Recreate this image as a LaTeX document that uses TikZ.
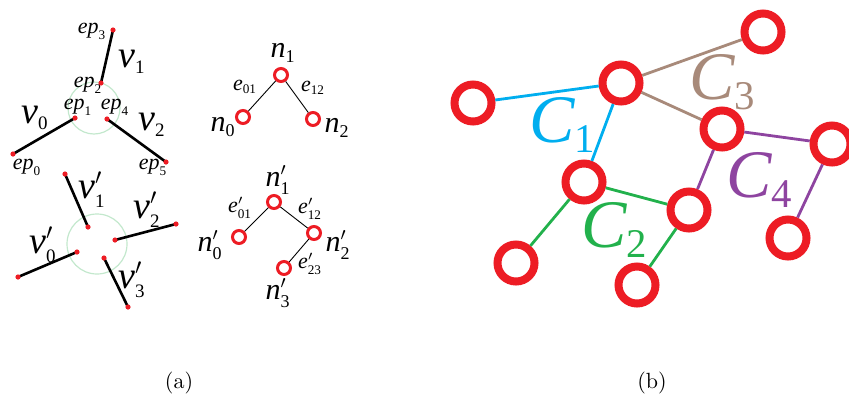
\RequirePackage{fix-cm}
\documentclass[tikz,border=0pt]{standalone}
\usepackage{fontspec}
\setmainfont{Liberation Serif}
\newfontfamily\capfont{Latin Modern Roman}
\usepackage{tikz}
\usetikzlibrary{positioning}
\renewcommand{\defaultscriptratio}{.6}
\definecolor{ringred}{RGB}{237,28,36}
\definecolor{linkcyan}{RGB}{0,174,239}
\definecolor{linkbrown}{RGB}{168,138,122}
\definecolor{linkpurple}{RGB}{142,68,160}
\definecolor{linkgreen}{RGB}{34,177,76}
\definecolor{hubgreen}{RGB}{195,232,205}

\begin{document}
\begin{tikzpicture}[
        x=0.5pt,
        y=-0.5pt,
        seg/.style={line width=1.3pt, black},
        hub/.style={draw=hubgreen, line width=0.6pt},
        tnode/.style={circle, draw=ringred, line width=1.5pt, minimum size=6.5pt, inner sep=0pt},
        tedge/.style={line width=0.45pt},
        cnode/.style={circle, draw=ringred, line width=4pt, minimum size=18.5pt, inner sep=0pt},
        cedge/.style={line width=1.4pt},
        vlab/.style={inner sep=0pt, font=\fontsize{19}{19}\selectfont},
        plab/.style={inner sep=0pt, font=\fontsize{11}{11}\selectfont},
        nlab/.style={inner sep=0pt, font=\fontsize{15}{15}\selectfont},
        clab/.style={inner sep=0pt, font=\fontsize{34}{34}\selectfont},
        sublabel/.style={inner sep=0pt, font=\capfont\fontsize{11}{13}\selectfont}
    ]
        \useasboundingbox (0,0) rectangle (849,402);

        \coordinate (ep0) at (13,154);
        \coordinate (ep1) at (75,118);
        \coordinate (ep2) at (101,83);
        \coordinate (ep3) at (113,30);
        \coordinate (ep4) at (107,119);
        \coordinate (ep5) at (166,162);
        \draw[hub] (94,108) circle (13pt);
        \draw[seg] (ep0) -- (ep1);
        \draw[seg] (ep2) -- (ep3);
        \draw[seg] (ep4) -- (ep5);
        \foreach \p in {ep0,ep1,ep2,ep3,ep4,ep5} {
            \fill[ringred] (\p) circle (1.3pt);
        }

        \node[plab] at (92,31) {$\mathit{ep}_{\mathrm{3}}$};
        \node[plab] at (88,85) {$\mathit{ep}_{\mathrm{2}}$};
        \node[plab] at (78,107) {$\mathit{ep}_{\mathrm{1}}$};
        \node[plab] at (115,107) {$\mathit{ep}_{\mathrm{4}}$};
        \node[plab] at (27,167) {$\mathit{ep}_{\mathrm{0}}$};
        \node[plab] at (153,167) {$\mathit{ep}_{\mathrm{5}}$};
        \node[vlab] at (132,62) {$\mathit{v}_{\scriptscriptstyle\mathrm{1}}$};
        \node[vlab] at (35,118) {$\mathit{v}_{\scriptscriptstyle\mathrm{0}}$};
        \node[vlab] at (152,125) {$\mathit{v}_{\scriptscriptstyle\mathrm{2}}$};

        \coordinate (q1a) at (65,174);
        \coordinate (q1b) at (88,227);
        \coordinate (q2a) at (115,240);
        \coordinate (q2b) at (176,224);
        \coordinate (q0a) at (77,252);
        \coordinate (q0b) at (18,277);
        \coordinate (q3a) at (104,258);
        \coordinate (q3b) at (128,307);
        \draw[hub] (97,244) circle (15pt);
        \foreach \i in {0,1,2,3} {
            \draw[seg] (q\i a) -- (q\i b);
            \fill[ringred] (q\i a) circle (1.3pt);
            \fill[ringred] (q\i b) circle (1.3pt);
        }
        \node[vlab] at (92,190) {$\mathit{v}'_{\scriptscriptstyle\mathrm{1}}$};
        \node[vlab] at (147,210) {$\mathit{v}'_{\scriptscriptstyle\mathrm{2}}$};
        \node[vlab] at (43,245) {$\mathit{v}'_{\scriptscriptstyle\mathrm{0}}$};
        \node[vlab] at (132,280) {$\mathit{v}'_{\scriptscriptstyle\mathrm{3}}$};

        \node[tnode] (n1) at (281,75) {};
        \node[tnode] (n0) at (243,117) {};
        \node[tnode] (n2) at (313,119) {};
        \draw[tedge] (n1) -- (n0);
        \draw[tedge] (n1) -- (n2);
        \node[nlab] at (283,53) {$\mathit{n}_{\mathrm{1}}$};
        \node[nlab] at (223,127) {$\mathit{n}_{\mathrm{0}}$};
        \node[nlab] at (337,128) {$\mathit{n}_{\mathrm{2}}$};
        \node[plab] at (245,87) {$\mathit{e}_{\mathrm{01}}$};
        \node[plab] at (313,88) {$\mathit{e}_{\mathrm{12}}$};

        \node[tnode] (m1) at (274,202) {};
        \node[tnode] (m0) at (239,237) {};
        \node[tnode] (m2) at (314,233) {};
        \node[tnode] (m3) at (284,268) {};
        \draw[tedge] (m1) -- (m0);
        \draw[tedge] (m1) -- (m2);
        \draw[tedge] (m2) -- (m3);
        \node[nlab] at (278,180) {$\mathit{n}'_{\mathrm{1}}$};
        \node[nlab] at (210,245) {$\mathit{n}'_{\mathrm{0}}$};
        \node[nlab] at (338,245) {$\mathit{n}'_{\mathrm{2}}$};
        \node[nlab] at (278,293) {$\mathit{n}'_{\mathrm{3}}$};
        \node[plab] at (240,208) {$\mathit{e}'_{\mathrm{01}}$};
        \node[plab] at (310,209) {$\mathit{e}'_{\mathrm{12}}$};
        \node[plab] at (310,264) {$\mathit{e}'_{\mathrm{23}}$};

        \node[cnode] (ca) at (473,103) {};
        \node[cnode] (cb) at (621,83) {};
        \node[cnode] (ct) at (763,32) {};
        \node[cnode] (cd) at (722,129) {};
        \node[cnode] (cf) at (832,144) {};
        \node[cnode] (ce) at (584,182) {};
        \node[cnode] (cg) at (689,210) {};
        \node[cnode] (ch) at (516,263) {};
        \node[cnode] (ci) at (637,285) {};
        \node[cnode] (cj) at (788,238) {};

        \draw[cedge, linkcyan] (ca) -- (cb) -- (ce);
        \draw[cedge, linkbrown] (ct) -- (cb) -- (cd);
        \draw[cedge, linkpurple] (cg) -- (cd) -- (cf) -- (cj);
        \draw[cedge, linkgreen] (ch) -- (ce) -- (cg) -- (ci);

        \node[clab, linkcyan] at (563,125) {$\mathit{C}_{\mathrm{1}}$};
        \node[clab, linkbrown] at (723,82) {$\mathit{C}_{\mathrm{3}}$};
        \node[clab, linkpurple] at (760,180) {$\mathit{C}_{\mathrm{4}}$};
        \node[clab, linkgreen] at (615,230) {$\mathit{C}_{\mathrm{2}}$};

        \node[sublabel] at (179,383) {(a)};
        \node[sublabel] at (652,383) {(b)};
    \end{tikzpicture}
\end{document}
